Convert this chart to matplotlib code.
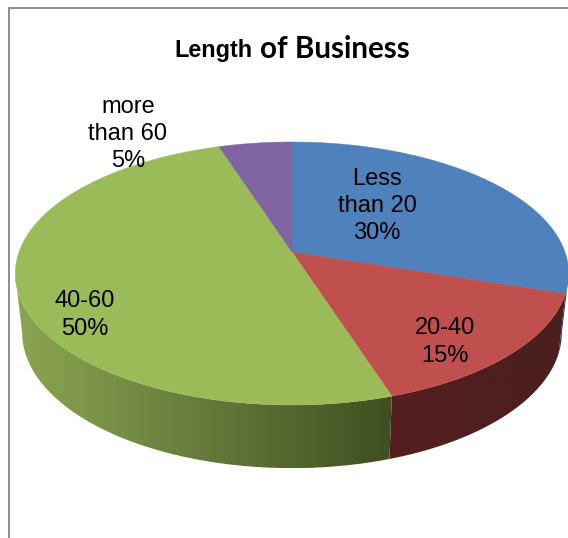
import numpy as np
import matplotlib
matplotlib.use('Agg')
import matplotlib.pyplot as plt
from matplotlib.colors import LinearSegmentedColormap
from matplotlib.patches import Polygon

categories = ['Less\nthan 20', '20-40', '40-60', 'more\nthan 60']
shares = [30, 15, 50, 5]
top_colors = ['#4f81bd', '#c0504d', '#9bbb59', '#8064a2']
# wall shade at the left / right end of each slice
wall_left = ['#203a5c', '#541f1e', '#8ba652', '#3e3050']
wall_right = ['#16283f', '#4a1f1e', '#3f4f22', '#3e3050']
label_pos = [(377, 206), (445, 342), (85, 315), (128, 134)]

# perspective of the pie, in pixels
cx, cy = 292, 252
A, B, k = 273, 128, 0.1635
drop_x, drop_y, drop = 0.975, 1.03, 58.5


def top_face(t):
    d = 1 + k * np.sin(t)
    return cx + A * np.cos(t) / d, cy - B * np.sin(t) / d


def bottom_face(t):
    d = 1 + k * np.sin(t)
    return (cx + drop_x * A * np.cos(t) / d,
            cy - drop_y * B * np.sin(t) / d + drop)


fig = plt.figure(figsize=(5.68, 5.38), dpi=100)
ax = fig.add_axes([0, 0, 1, 1])

# chart border (only top and left are in the crop)
ax.plot([8.5, 8.5, 568], [538, 7.5, 7.5], color='#8c8c8c', lw=1.4, zorder=1)

edges = np.pi / 2 - 2 * np.pi * np.cumsum([0] + shares) / sum(shares)

# walls first, top faces go over them
for i in range(len(shares)):
    t = np.linspace(edges[i], edges[i + 1], 400)
    # only the part in front of the silhouette tangents
    t = t[np.sin(t) < -k]
    if len(t) < 2:
        continue
    xt, yt = top_face(t)
    xb, yb = bottom_face(t)
    outline = np.c_[np.r_[xt, xb[::-1]], np.r_[yt, yb[::-1]]]
    lo, hi = outline[:, 0].min(), outline[:, 0].max()
    cmap = LinearSegmentedColormap.from_list('wall', [wall_left[i], wall_right[i]])
    im = ax.imshow(np.linspace(0, 1, 256)[None, :], cmap=cmap, aspect='auto',
                   extent=(lo, hi, outline[:, 1].max(), outline[:, 1].min()), zorder=2)
    clip = Polygon(outline, closed=True, transform=ax.transData, fc='none', ec='none')
    ax.add_patch(clip)
    im.set_clip_path(clip)

for i in range(len(shares)):
    t = np.linspace(edges[i], edges[i + 1], 200)
    xt, yt = top_face(t)
    ax.fill(np.r_[cx, xt], np.r_[cy, yt], color=top_colors[i], lw=0.3, zorder=3)

for name, v, (lx, ly) in zip(categories, shares, label_pos):
    ax.text(lx, ly, f'{name}\n{v}%', ha='center', va='center', fontsize=17,
            family='Liberation Sans', color='black', linespacing=1.3, zorder=4)

ax.text(174, 50, 'Length', fontsize=16.8, fontweight='bold', family='Liberation Sans',
        va='center', ha='left', zorder=4)
ax.text(260, 49, 'of Business', fontsize=21.3, fontweight='bold', family='Lato',
        va='center', ha='left', zorder=4)

ax.set_xlim(0, 568)
ax.set_ylim(538, 0)
ax.axis('off')

fig.savefig('out.png', dpi=100)
